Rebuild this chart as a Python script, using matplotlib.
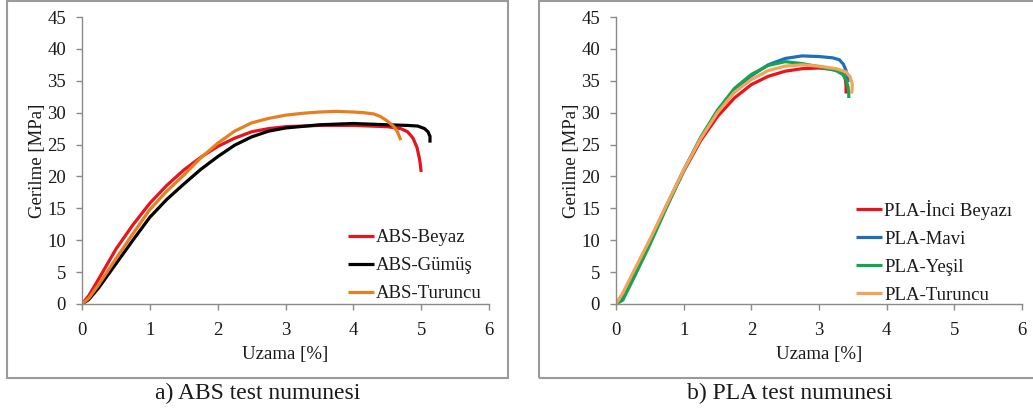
import matplotlib
matplotlib.use("Agg")
import matplotlib.pyplot as plt
from matplotlib.patches import Rectangle

plt.rcParams['font.family'] = ['Liberation Serif', 'DejaVu Serif']

# ---------------- data: ABS ----------------
abs_beyaz_x = [0, 0.1, 0.25, 0.5, 0.75, 1.0, 1.25, 1.5, 1.75, 2.0, 2.25, 2.5, 2.75, 3.0,
               3.5, 4.0, 4.5, 4.7, 4.8, 4.88, 4.94, 4.98, 5.0]
abs_beyaz_y = [0, 1.3, 4.0, 8.6, 12.4, 15.8, 18.6, 21.0, 23.0, 24.7, 26.0, 27.0, 27.5, 27.8,
               28.0, 28.0, 27.8, 27.5, 27.0, 26.0, 24.5, 22.5, 20.7]

abs_gumus_x = [0, 0.1, 0.25, 0.5, 0.75, 1.0, 1.25, 1.5, 1.75, 2.0, 2.25, 2.5, 2.75, 3.0,
               3.5, 4.0, 4.5, 4.8, 4.95, 5.05, 5.1, 5.13, 5.13]
abs_gumus_y = [0, 0.7, 2.6, 6.3, 10.0, 13.6, 16.4, 18.8, 21.1, 23.1, 24.9, 26.2, 27.1, 27.6,
               28.1, 28.3, 28.1, 28.0, 27.9, 27.5, 27.0, 26.3, 25.3]

abs_turuncu_x = [0, 0.1, 0.25, 0.5, 0.75, 1.0, 1.25, 1.5, 1.75, 2.0, 2.25, 2.5, 2.75, 3.0,
                 3.25, 3.5, 3.75, 4.0, 4.15, 4.3, 4.4, 4.5, 4.6, 4.65, 4.7]
abs_turuncu_y = [0, 0.9, 3.1, 7.1, 11.0, 14.8, 17.7, 20.2, 22.9, 25.2, 27.1, 28.4, 29.1, 29.6,
                 29.9, 30.1, 30.2, 30.1, 30.0, 29.8, 29.4, 28.7, 27.8, 27.0, 25.7]

# ---------------- data: PLA ----------------
pla_inci_x = [0, 0.1, 0.25, 0.5, 0.75, 1.0, 1.25, 1.5, 1.75, 2.0, 2.25, 2.5, 2.75, 3.0,
              3.2, 3.3, 3.36, 3.39, 3.4, 3.4]
pla_inci_y = [0, 1.5, 4.6, 9.9, 15.4, 20.8, 25.6, 29.4, 32.3, 34.4, 35.7, 36.5, 36.9, 37.0,
              36.8, 36.5, 36.0, 35.2, 34.2, 33.0]

pla_mavi_x = [0, 0.1, 0.25, 0.5, 0.75, 1.0, 1.25, 1.5, 1.75, 2.0, 2.25, 2.5, 2.75, 3.0,
              3.2, 3.3, 3.36, 3.4, 3.42, 3.43]
pla_mavi_y = [0, 1.3, 4.5, 9.8, 15.5, 21.0, 26.0, 30.2, 33.5, 35.8, 37.5, 38.5, 38.9, 38.8,
              38.6, 38.3, 37.6, 36.6, 35.6, 34.8]

pla_yesil_x = [0, 0.1, 0.25, 0.5, 0.75, 1.0, 1.25, 1.5, 1.75, 2.0, 2.25, 2.5, 2.75, 3.0,
               3.25, 3.35, 3.4, 3.43, 3.44, 3.44]
pla_yesil_y = [0, 0.6, 3.8, 9.3, 15.2, 20.9, 26.1, 30.4, 33.8, 36.0, 37.4, 38.0, 37.7, 37.2,
               36.6, 36.0, 35.2, 34.0, 33.0, 32.3]

pla_turuncu_x = [0, 0.1, 0.25, 0.5, 0.75, 1.0, 1.25, 1.5, 1.75, 2.0, 2.25, 2.5, 2.75, 3.0,
                 3.25, 3.4, 3.46, 3.49, 3.49, 3.48]
pla_turuncu_y = [0, 1.7, 4.9, 10.1, 15.6, 21.0, 25.9, 30.0, 33.2, 35.2, 36.6, 37.3, 37.5, 37.3,
                 36.9, 36.4, 35.6, 34.6, 33.6, 33.0]

abs_series = [("ABS-Beyaz", abs_beyaz_x, abs_beyaz_y, "#E8141C"),
              ("ABS-Gümüş", abs_gumus_x, abs_gumus_y, "#000000"),
              ("ABS-Turuncu", abs_turuncu_x, abs_turuncu_y, "#E67E22")]
pla_series = [("PLA-İnci Beyazı", pla_inci_x, pla_inci_y, "#E8141C"),
              ("PLA-Mavi", pla_mavi_x, pla_mavi_y, "#1F6FB8"),
              ("PLA-Yeşil", pla_yesil_x, pla_yesil_y, "#17A452"),
              ("PLA-Turuncu", pla_turuncu_x, pla_turuncu_y, "#F2A45A")]

xticks = [0, 1, 2, 3, 4, 5, 6]
yticks = [0, 5, 10, 15, 20, 25, 30, 35, 40, 45]
xlabel = "Uzama [%]"
ylabel = "Gerilme [MPa]"
captions = ["a) ABS test numunesi", "b) PLA test numunesi"]

W, H = 1033, 412
fig = plt.figure(figsize=(W / 100, H / 100), dpi=100)

def px_rect(x0, y0, x1, y1):
    return [x0 / W, 1 - y1 / H, (x1 - x0) / W, (y1 - y0) / H]

# panel frames
for (x0, x1) in [(7, 508), (539, 1045)]:
    fig.patches.append(Rectangle((x0 / W, 1 - 378 / H), (x1 - x0) / W, 377 / H,
                                 transform=fig.transFigure, fill=False,
                                 edgecolor="#9a9a9a", linewidth=1.5))

spine_c = "#8a8a8a"
text_c = "#1a1a1a"

def style_ax(ax):
    for s in ["top", "right"]:
        ax.spines[s].set_visible(False)
    for s in ["left", "bottom"]:
        ax.spines[s].set_color(spine_c)
        ax.spines[s].set_linewidth(1.0)
    ax.set_xlim(0, 6)
    ax.set_ylim(0, 45)
    ax.set_xticks(xticks)
    ax.set_yticks(yticks)
    ax.tick_params(direction="out", length=4, width=1.0, color=spine_c,
                   labelsize=13.5, labelcolor=text_c)
    ax.tick_params(axis="y", pad=7.5)
    ax.tick_params(axis="x", pad=9)
    ax.set_xlabel(xlabel, fontsize=13.5, color=text_c, labelpad=5)
    ax.set_ylabel(ylabel, fontsize=13.5, color=text_c, labelpad=1)

axes_px = [(82, 17, 489, 304), (616, 17, 1022, 304)]
for (series, box, cap, capx, leg_anchor) in [
        (abs_series, axes_px[0], captions[0], 258, (1.0, -0.02)),
        (pla_series, axes_px[1], captions[1], 790, (0.995, -0.025))]:
    ax = fig.add_axes(px_rect(*box))
    for name, xs, ys, c in series:
        ax.plot(xs, ys, color=c, lw=2.3, label=name, solid_capstyle="butt")
    style_ax(ax)
    leg = ax.legend(loc="lower right", bbox_to_anchor=leg_anchor, frameon=False,
                    fontsize=13.5, handlelength=1.4, handletextpad=0.1,
                    labelspacing=0.58, borderaxespad=0)
    for t in leg.get_texts():
        t.set_color(text_c)
    fig.text(capx / W, 1 - 393 / H, cap, ha="center", va="center",
             fontsize=17, color=text_c)

fig.savefig("out.png", dpi=100)
